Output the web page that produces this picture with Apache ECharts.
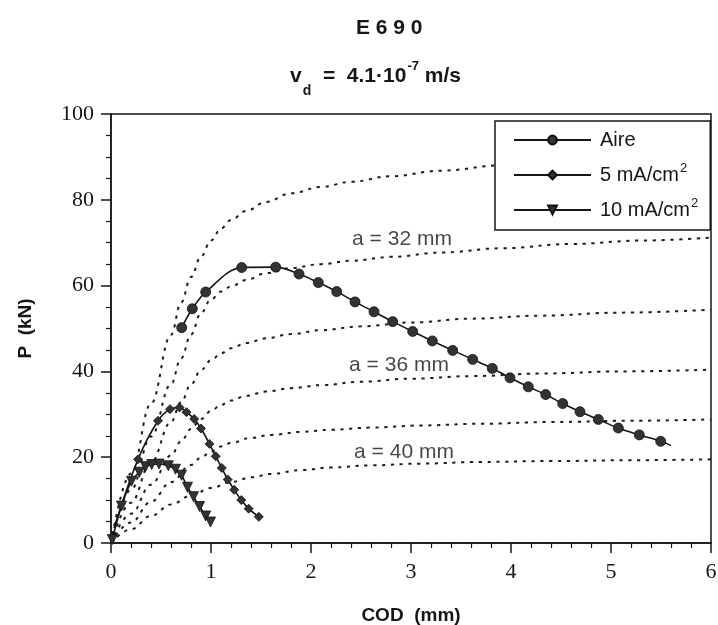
<!DOCTYPE html>
<html>
<head>
<meta charset="utf-8">
<script src="https://cdn.jsdelivr.net/npm/echarts@6/dist/echarts.min.js"></script>
<style>
  html, body { margin: 0; padding: 0; background: #ffffff; }
  #chart { width: 718px; height: 625px; }
</style>
</head>
<body>
<div id="chart"></div>
<script>
// Measured load–COD records (COD in mm, P in kN)
const aireCod = [0.707, 0.813, 0.947, 1.307, 1.647, 1.88, 2.073, 2.257, 2.44, 2.63, 2.817, 3.017, 3.213, 3.417, 3.617, 3.813, 3.99, 4.173, 4.347, 4.517, 4.69, 4.873, 5.073, 5.283, 5.497, 5.6];
const aireP   = [50.2, 54.6, 58.5, 64.2, 64.3, 62.7, 60.7, 58.6, 56.2, 53.9, 51.6, 49.3, 47.1, 44.9, 42.8, 40.7, 38.5, 36.4, 34.6, 32.5, 30.6, 28.8, 26.8, 25.2, 23.7, 22.7];

const ma5Cod = [0.03, 0.27, 0.47, 0.59, 0.685, 0.755, 0.832, 0.90, 0.985, 1.047, 1.108, 1.167, 1.232, 1.303, 1.377, 1.478];
const ma5P   = [3.5, 19.5, 28.5, 31.2, 31.6, 30.5, 28.9, 26.7, 23.1, 20.2, 17.5, 14.8, 12.4, 10.0, 8.0, 6.1];

const ma10Cod = [0.013, 0.105, 0.205, 0.283, 0.345, 0.407, 0.48, 0.573, 0.645, 0.705, 0.765, 0.825, 0.885, 0.947, 0.995];
const ma10P   = [0.8, 8.6, 14.4, 16.5, 17.8, 18.3, 18.4, 18.0, 17.2, 15.8, 13.0, 10.8, 8.5, 6.3, 4.9];

// Computed curves for fixed crack length (dotted)
const curveA_cod = [0, 0.2, 0.4, 0.6, 0.7, 0.8, 0.9, 1.0, 1.1, 1.2, 1.35, 1.55, 1.8, 2.1, 2.4, 2.8, 3.3, 3.9, 4.6, 5.3, 6.0];
const curveA_p   = [0, 16.2, 32.5, 48.5, 56, 62, 66.8, 70.5, 73.3, 75.3, 77.4, 79.5, 81.5, 83.0, 84.2, 85.5, 86.8, 88.0, 89.1, 90.0, 90.8];
const curveB_cod = [0, 0.2, 0.4, 0.6, 0.7, 0.8, 0.9, 1.0, 1.1, 1.2, 1.35, 1.55, 1.8, 2.1, 2.4, 2.8, 3.3, 3.9, 4.6, 5.3, 6.0];
const curveB_p   = [0, 12.4, 24.8, 37, 43, 48.6, 53.6, 56.8, 58.6, 59.8, 61.3, 62.9, 64.1, 65.0, 65.8, 66.7, 67.7, 68.7, 69.7, 70.5, 71.2];
const curveC_cod = [0, 0.2, 0.4, 0.6, 0.7, 0.8, 0.9, 1.0, 1.1, 1.2, 1.35, 1.55, 1.8, 2.1, 2.5, 3.0, 3.6, 4.3, 5.1, 6.0];
const curveC_p   = [0, 9.4, 18.8, 28.2, 32.8, 37, 40.3, 42.6, 44.2, 45.4, 46.6, 47.7, 48.7, 49.6, 50.5, 51.4, 52.3, 53.0, 53.7, 54.4];
const curveD_cod = [0, 0.2, 0.4, 0.6, 0.7, 0.8, 0.9, 1.0, 1.1, 1.2, 1.35, 1.55, 1.8, 2.1, 2.5, 3.0, 3.6, 4.3, 5.1, 6.0];
const curveD_p   = [0, 6.8, 13.6, 20.4, 23.7, 26.6, 28.9, 30.8, 32.2, 33.2, 34.3, 35.3, 36.1, 36.8, 37.6, 38.3, 38.9, 39.5, 40.0, 40.4];
const curveE_cod = [0, 0.2, 0.4, 0.6, 0.8, 0.9, 1.0, 1.1, 1.2, 1.4, 1.6, 1.9, 2.2, 2.6, 3.1, 3.7, 4.4, 5.2, 6.0];
const curveE_p   = [0, 4.8, 9.6, 14.2, 18.2, 19.9, 21.3, 22.5, 23.3, 24.5, 25.2, 25.9, 26.4, 26.9, 27.4, 27.8, 28.2, 28.5, 28.8];
const curveF_cod = [0, 0.2, 0.4, 0.6, 0.8, 1.0, 1.2, 1.4, 1.6, 1.9, 2.2, 2.6, 3.1, 3.7, 4.4, 5.2, 6.0];
const curveF_p   = [0, 3.2, 6.3, 9.0, 11.0, 12.8, 14.2, 15.3, 16.1, 17.0, 17.6, 18.1, 18.5, 18.9, 19.1, 19.3, 19.5];

// Crack-length annotations
const crackLabels = ['a = 32 mm', 'a = 36 mm', 'a = 40 mm'];
const crackLabelCod = [2.91, 2.88, 2.93];
const crackLabelP = [70.9, 41.4, 21.1];

const xTicks = [0, 1, 2, 3, 4, 5, 6];
const yTicks = [0, 20, 40, 60, 80, 100];

const pairs = (xs, ys) => xs.map((x, i) => [x, ys[i]]);
const INK = '#161616';
const SANS = 'Liberation Sans, Arial, Helvetica, sans-serif';
const SERIF = 'Liberation Serif, Times New Roman, serif';

function dotted(xs, ys) {
  return {
    type: 'line',
    data: pairs(xs, ys),
    smooth: 0.4,
    smoothMonotone: 'x',
    showSymbol: false,
    symbol: 'none',
    silent: true,
    z: 1,
    lineStyle: { color: '#1c1c1c', width: 2, type: [3.2, 5.6] }
  };
}

const aireData = pairs(aireCod, aireP).map((p, i) =>
  i === aireCod.length - 1 ? { value: p, symbol: 'none' } : p);
const ma5Data = pairs(ma5Cod, ma5P).map((p, i) =>
  i === 0 ? { value: p, symbol: 'none' } : p);

const chart = echarts.init(document.getElementById('chart'), null, { renderer: 'canvas' });

chart.setOption({
  backgroundColor: '#ffffff',
  animation: false,
  title: [
    {
      text: 'E 6 9 0',
      left: 351,
      top: 13,
      textStyle: { fontFamily: SANS, fontWeight: 'bold', fontSize: 21, color: INK }
    },
    {
      text: '{v|v}{d|d}{t|  =  4.1·10}{e|-7}{t| m/s}',
      left: 285,
      top: 49,
      textStyle: {
        fontFamily: SANS, fontWeight: 'bold', fontSize: 21, color: INK,
        rich: {
          v: { fontFamily: SANS, fontWeight: 'bold', fontSize: 21, color: INK },
          t: { fontFamily: SANS, fontWeight: 'bold', fontSize: 21, color: INK },
          d: { fontFamily: SANS, fontWeight: 'bold', fontSize: 14, color: INK, padding: [30, 0, 0, 1] },
          e: { fontFamily: SANS, fontWeight: 'bold', fontSize: 13, color: INK, padding: [0, 0, 20, 1] }
        }
      }
    }
  ],
  legend: {
    data: ['Aire', '5 mA/cm2', '10 mA/cm2'],
    orient: 'vertical',
    left: 495,
    top: 121,
    width: 215,
    padding: [9, 12, 10, 18],
    itemGap: 12,
    itemWidth: 77,
    itemHeight: 11,
    backgroundColor: '#ffffff',
    borderColor: INK,
    borderWidth: 1.5,
    borderRadius: 0,
    selectedMode: false,
    formatter: name => {
      if (name === 'Aire') return '{t|Aire}';
      const base = name.replace(/2$/, '');
      return '{t|' + base + '}{s|2}';
    },
    textStyle: {
      fontFamily: SANS, fontSize: 20, color: INK,
      rich: {
        t: { fontFamily: SANS, fontSize: 20, color: INK, padding: [0, 0, 0, 4] },
        s: { fontFamily: SANS, fontSize: 13, color: INK, padding: [0, 0, 13, 1] }
      }
    }
  },
  grid: {
    left: 111, right: 7, top: 114, bottom: 82,
    containLabel: false,
    outerBoundsMode: 'none',
    show: true, borderColor: INK, borderWidth: 1.5, backgroundColor: 'transparent'
  },
  xAxis: {
    type: 'value',
    min: 0, max: 6, interval: 1,
    name: 'COD  (mm)',
    nameLocation: 'middle',
    nameGap: 63,
    nameTextStyle: { fontFamily: SANS, fontWeight: 'bold', fontSize: 19, color: INK },
    axisLine: { show: true, onZero: false, lineStyle: { color: INK, width: 1.5 } },
    axisTick: { show: true, inside: false, length: 10, lineStyle: { color: INK, width: 1.5 } },
    minorTick: { show: true, splitNumber: 5, length: 5, lineStyle: { color: INK, width: 1.2 } },
    splitLine: { show: false },
    axisLabel: {
      margin: 18, fontFamily: SERIF, fontSize: 22, color: INK,
      formatter: v => xTicks.includes(v) ? String(v) : ''
    }
  },
  yAxis: {
    type: 'value',
    min: 0, max: 100, interval: 20,
    name: 'P  (kN)',
    nameLocation: 'middle',
    nameGap: 76,
    nameTextStyle: { fontFamily: SANS, fontWeight: 'bold', fontSize: 19, color: INK },
    axisLine: { show: true, onZero: false, lineStyle: { color: INK, width: 1.5 } },
    axisTick: { show: true, inside: false, length: 10, lineStyle: { color: INK, width: 1.5 } },
    minorTick: { show: true, splitNumber: 4, length: 5, lineStyle: { color: INK, width: 1.2 } },
    splitLine: { show: false },
    axisLabel: {
      margin: 17, fontFamily: SERIF, fontSize: 22, color: INK,
      formatter: v => yTicks.includes(v) ? String(v) : ''
    }
  },
  series: [
    dotted(curveA_cod, curveA_p),
    dotted(curveB_cod, curveB_p),
    dotted(curveC_cod, curveC_p),
    dotted(curveD_cod, curveD_p),
    dotted(curveE_cod, curveE_p),
    dotted(curveF_cod, curveF_p),
    {
      name: 'Aire',
      type: 'line',
      data: aireData,
      smooth: 0.35,
      symbol: 'circle',
      symbolSize: 10,
      z: 4,
      lineStyle: { color: INK, width: 1.6 },
      itemStyle: { color: '#333333', borderColor: '#111', borderWidth: 0.8 }
    },
    {
      name: '5 mA/cm2',
      type: 'line',
      data: ma5Data,
      smooth: 0.35,
      symbol: 'diamond',
      symbolSize: 9,
      z: 4,
      lineStyle: { color: INK, width: 1.6 },
      itemStyle: { color: '#333333', borderColor: '#111', borderWidth: 0.8 }
    },
    {
      name: '10 mA/cm2',
      type: 'line',
      data: pairs(ma10Cod, ma10P),
      smooth: 0.35,
      symbol: 'triangle',
      symbolRotate: 180,
      symbolSize: 10,
      z: 4,
      lineStyle: { color: INK, width: 1.6 },
      itemStyle: { color: '#333333', borderColor: '#111', borderWidth: 0.8 }
    },
    {
      type: 'scatter',
      data: crackLabelCod.map((x, i) => [x, crackLabelP[i], crackLabels[i]]),
      symbolSize: 0,
      silent: true,
      z: 5,
      label: {
        show: true,
        position: 'inside',
        formatter: p => p.data[2],
        fontFamily: SANS, fontSize: 21, color: INK
      }
    }
  ]
});
</script>
</body>
</html>
